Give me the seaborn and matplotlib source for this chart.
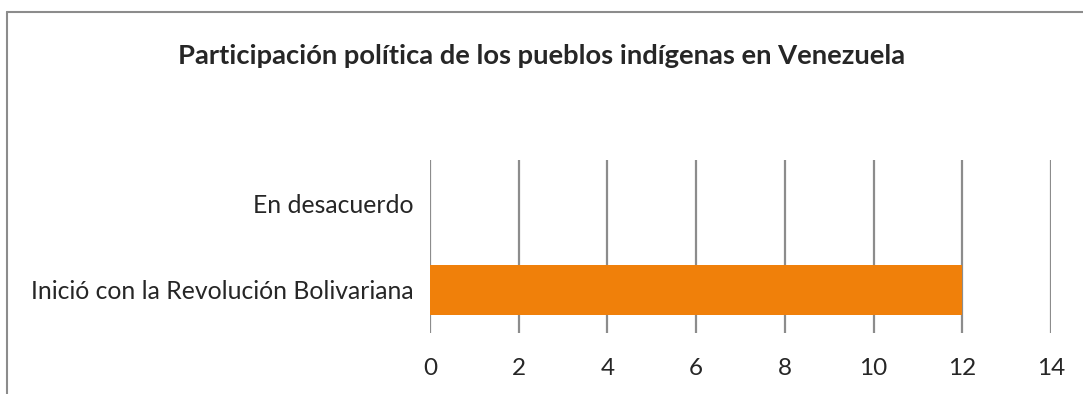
import matplotlib
matplotlib.use("Agg")
import matplotlib.pyplot as plt
import seaborn as sns
import pandas as pd

categories = ["En desacuerdo", "Inició con la Revolución Bolivariana"]
values = [0, 12]
x_ticks = [0, 2, 4, 6, 8, 10, 12, 14]
title = "Participación política de los pueblos indígenas en Venezuela"

sns.set_style("white")
plt.rcParams["font.family"] = ["Lato", "DejaVu Sans"]

df = pd.DataFrame({"categoria": categories, "valor": values})

fig = plt.figure(figsize=(10.83, 3.94), dpi=100)
ax = fig.add_axes([430 / 1083, 61 / 394, 621 / 1083, 173 / 394])

sns.barplot(data=df, x="valor", y="categoria", orient="h", color="#F0800A",
            saturation=1, width=0.58, linewidth=0, ax=ax, zorder=3)

ax.set_xlim(0, 14)
ax.set_xticks(x_ticks)
ax.set_xticklabels([str(t) for t in x_ticks], fontsize=17.5)
ax.tick_params(axis="y", labelsize=17.8, length=0, pad=12)
ax.tick_params(axis="x", length=0, pad=18)
ax.set_xlabel("")
ax.set_ylabel("")
for s in ax.spines.values():
    s.set_visible(False)
ax.grid(axis="x", color="#8c8c8c", linewidth=1.6, zorder=0)
ax.grid(axis="y", visible=False)
ax.set_axisbelow(True)

fig.text(0.5, 1 - 56 / 394, title, ha="center", va="center",
         fontsize=19.7, fontweight="bold")

# outer frame of the chart area (open to the right and bottom)
fig.add_artist(plt.Line2D([7 / 1083, 7 / 1083], [0, 1 - 12 / 394],
                          transform=fig.transFigure, color="#8c8c8c", linewidth=1.5))
fig.add_artist(plt.Line2D([7 / 1083, 1], [1 - 12 / 394, 1 - 12 / 394],
                          transform=fig.transFigure, color="#8c8c8c", linewidth=1.5))

fig.savefig("out.png", dpi=100)
